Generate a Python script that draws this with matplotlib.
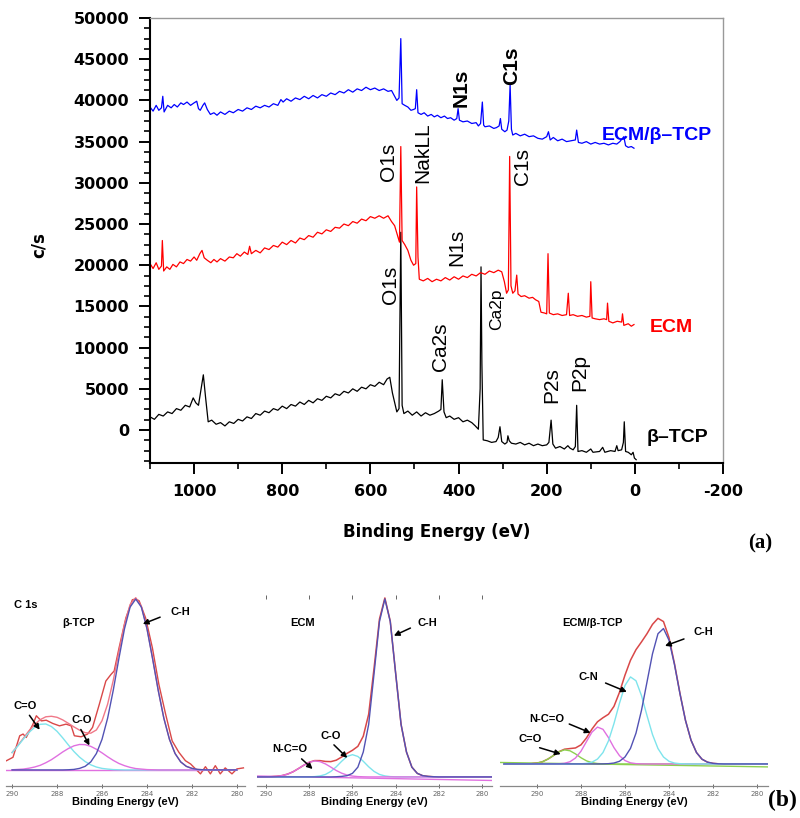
import numpy as np
import matplotlib
matplotlib.use("Agg")
import matplotlib.pyplot as plt
from matplotlib.ticker import MultipleLocator

plt.rcParams["axes.unicode_minus"] = False

# ---------------- (a) XPS survey spectra : binding energy (eV) / counts per s
tcp_E = [1100, 1090, 1080, 1070, 1060, 1050, 1040, 1030, 1020, 1010, 1002, 996, 990, 984, 979, 974,
         968, 960, 950, 940, 930, 920, 910, 900, 890, 880, 870, 860, 850, 840, 830, 820, 810, 800,
         790, 780, 770, 760, 750, 740, 730, 720, 710, 700, 690, 680, 670, 660, 650, 640, 630, 620,
         610, 600, 590, 580, 570, 562, 556, 550, 540, 535, 531, 528, 524, 515, 505, 495, 485, 475,
         465, 455, 445, 440, 437, 433, 428, 420, 410, 400, 390, 380, 370, 362, 355, 351, 349, 347,
         344, 335, 325, 315, 310, 306, 302, 295, 290, 288, 285, 280, 270, 260, 250, 240, 230, 220,
         210, 200, 195, 190, 186, 180, 170, 160, 152, 147, 140, 135, 132, 129, 120, 110, 100, 95,
         80, 73, 68, 55, 45, 41, 38, 30, 26, 24, 21, 15, 8, 4, 1, -3]
tcp_cps = [1600, 1300, 1900, 1700, 2200, 2000, 2600, 2400, 3000, 2800, 3900, 3300, 3000, 5000, 6700, 4000,
           1000, 1200, 700, 900, 500, 1000, 800, 1300, 1100, 1600, 1400, 2000, 1800, 2300, 2100, 2600, 2400, 2900,
           2600, 3100, 2900, 3400, 3100, 3600, 3300, 3800, 3600, 4100, 3900, 4400, 4200, 4700, 4500, 5000, 4700, 5200,
           5000, 5500, 5300, 5800, 5500, 6200, 6400, 4500, 2200, 2600, 24000, 3000, 2000, 2300, 1800, 2200, 1700, 2100,
           1800, 2000, 2300, 2500, 6100, 2200, 1500, 1700, 1300, 1500, 1000, 1200, 900, 500, 100, 5000, 19800, 8000,
           -1200, -1300, -1500, -1400, -900, 400, -1400, -1700, -1500, -700, -1300, -1600, -1700, -1500, -1800, -1600, -1900, -1700,
           -1900, -1800, -1500, 1200, -1700, -2200, -2000, -2300, -1900, -2200, -2400, -2000, 3000, -2600, -2500, -2700, -2300, -2700,
           -2600, -2100, -2700, -2500, -2600, -1900, -2500, -2400, -1500, 1000, -2600, -2700, -3000, -2700, -3400, -3600]

ecm_E = [1100, 1093, 1086, 1080, 1074, 1072, 1069, 1062, 1055, 1048, 1040, 1032, 1024, 1016, 1008, 1000,
         994, 987, 982, 977, 970, 962, 955, 948, 940, 930, 920, 911, 903, 895, 886, 878, 874, 870,
         860, 850, 840, 830, 820, 810, 800, 790, 780, 770, 760, 750, 740, 730, 720, 710, 700, 690,
         680, 670, 660, 650, 640, 630, 620, 610, 600, 590, 580, 570, 560, 552, 545, 538, 534, 531,
         528, 522, 515, 508, 502, 497, 495, 492, 489, 480, 470, 460, 450, 440, 430, 420, 410, 400,
         390, 380, 370, 360, 350, 340, 330, 320, 310, 302, 296, 291, 287, 284, 281, 277, 272, 268,
         265, 258, 250, 240, 232, 225, 218, 213, 205, 200, 197, 194, 185, 175, 165, 155, 151, 148,
         140, 130, 120, 110, 102, 100, 97, 90, 80, 70, 64, 62, 59, 50, 40, 30, 28, 25, 15, 8, 2]
ecm_cps = [20200, 19600, 20300, 19500, 19900, 23000, 19300, 19800, 19500, 20100, 19800, 20400, 20200, 20700, 20500, 21000,
           20600, 21400, 21800, 20900, 20600, 20300, 20700, 20400, 20800, 20500, 21000, 20900, 21400, 21100, 21600, 21300, 22300, 21400,
           21800, 21500, 22100, 21900, 22400, 22200, 22800, 22500, 23000, 22700, 23300, 23100, 23600, 23400, 24000, 23800, 24300, 24100,
           24600, 24500, 25000, 24800, 25300, 25100, 25600, 25400, 25900, 25700, 26000, 25700, 26000, 25300, 24800, 23500, 22800, 34400,
           23000, 22500, 21800, 20600, 20000, 20200, 29500, 21000, 18300, 18100, 18400, 18000, 18300, 18100, 18500, 18200, 18600, 18300,
           18700, 18500, 18900, 18700, 19100, 18900, 19300, 19100, 19400, 19200, 18000, 16600, 17000, 33200, 17500, 16600, 16900, 18800,
           16500, 16200, 16300, 16000, 16100, 15800, 15600, 14300, 14200, 14100, 21400, 14200, 14000, 14100, 13900, 14000, 16600, 13900,
           14000, 13800, 13900, 13700, 13800, 18000, 13600, 13500, 13400, 13500, 13400, 15400, 13200, 13000, 13200, 13100, 14100, 12700, 12900, 12600, 12800]

mix_E = [1100, 1093, 1086, 1080, 1074, 1071, 1068, 1060, 1052, 1045, 1038, 1030, 1024, 1016, 1008, 1000,
         994, 990, 986, 980, 976, 970, 963, 955, 948, 940, 930, 920, 911, 900, 890, 880, 870, 860,
         850, 840, 830, 820, 810, 803, 798, 790, 780, 770, 760, 750, 740, 730, 720, 710, 700, 690,
         680, 670, 660, 650, 640, 630, 620, 610, 600, 590, 580, 570, 560, 552, 546, 540, 535, 531,
         528, 522, 515, 508, 502, 498, 495, 492, 485, 478, 470, 462, 455, 448, 440, 432, 425, 418,
         410, 404, 401, 398, 390, 380, 370, 360, 355, 350, 346, 343, 340, 330, 320, 314, 308, 305,
         302, 295, 290, 286, 283, 280, 277, 270, 260, 250, 240, 230, 220, 210, 200, 196, 192, 185,
         175, 165, 155, 145, 135, 132, 128, 120, 110, 100, 90, 80, 70, 60, 50, 41, 34, 28, 25, 21, 15, 8, 2]
mix_cps = [39200, 38700, 39400, 38800, 39100, 40500, 38600, 39400, 39100, 39500, 39200, 39700, 39500, 39800, 39400, 39700,
           39900, 39000, 38800, 39400, 39700, 38900, 38300, 38500, 38200, 38600, 38300, 38700, 38500, 38900, 38700, 39100, 38900, 39300,
           39100, 39400, 39200, 39600, 39400, 40100, 39800, 40200, 39900, 40300, 40100, 40500, 40200, 40600, 40300, 40700, 40500, 40900,
           40700, 41100, 40900, 41300, 41000, 41400, 41200, 41600, 41300, 41500, 41200, 41400, 41100, 41200, 40600, 40000, 40300, 47500,
           39600, 39400, 39200, 38800, 38900, 39000, 41300, 38500, 38300, 38500, 38100, 38300, 38000, 38200, 37900, 38100, 37800, 37900,
           37600, 37800, 39000, 37600, 37400, 37500, 37200, 37300, 36900, 37200, 39800, 37000, 36800, 36900, 36600, 36700, 36900, 37800,
           36500, 36200, 36400, 37500, 41900, 36500, 35800, 36000, 35700, 35900, 35600, 35700, 35400, 35300, 35600, 36200, 35200, 35500,
           35100, 35300, 35000, 35100, 35200, 36400, 34900, 34800, 35000, 34700, 34900, 34700, 34800, 34600, 34800, 34700, 35000, 35400, 35600, 34500, 34300, 34400, 34200]

# peak labels: text, energy, counts, bold, size
peak_labels = [("O1s", 555, 17600, False, 15), ("O1s", 560, 32500, False, 15),
               ("NakLL", 481, 33600, False, 15), ("N1s", 395, 41500, True, 15),
               ("C1s", 279, 44200, True, 15), ("N1s", 404, 22200, False, 15),
               ("C1s", 254, 32000, False, 15), ("Ca2p", 313, 14700, False, 12.5),
               ("Ca2s", 442, 10100, False, 15), ("P2s", 188, 5500, False, 15),
               ("P2p", 125, 7000, False, 15)]
series_names = ["ECM/\u03b2\u2013TCP", "ECM", "\u03b2\u2013TCP"]
series_colors = ["#0000ff", "#ff0000", "black"]
series_label_pos = [(-50, 35700), (-83, 12450), (-96, -950)]

# ---------------- (b) C 1s high-resolution fits (normalised intensity)
E_l = np.arange(290, 279.9, -0.25)
l_CH = [0]*10 + [0.1, 0.3, 0.9, 2.1, 4.7, 9.6, 17.9, 30.3, 46.6, 65.1, 82.6, 95.3, 100, 95.3, 82.6, 65.1,
                 46.6, 30.3, 17.9, 9.6, 4.7, 2.1, 0.9, 0.3, 0.1] + [0]*6
l_CO = [0.1, 0.3, 0.5, 1.0, 1.7, 2.7, 4.2, 6.0, 8.2, 10.5, 12.5, 14.1, 14.9, 14.8, 13.8, 12.1, 10.0, 7.7,
        5.6, 3.8, 2.5, 1.5, 0.8, 0.5, 0.2, 0.1] + [0]*15
l_CdO = [10.1, 13.9, 18.0, 21.9, 24.9, 26.7, 26.9, 25.4, 22.6, 18.8, 14.7, 10.8, 7.5, 4.9, 3.0, 1.7, 0.9,
         0.5, 0.2, 0.1] + [0]*21
l_data_E = [290.25, 289.96, 289.66, 289.51, 289.37, 289.07, 288.92, 288.70, 288.48, 288.19, 287.89, 287.60,
            287.37, 287.23, 286.93, 286.64, 286.42, 286.12, 285.83, 285.60, 285.46, 285.24, 284.94, 284.65,
            284.50, 284.35, 284.06, 283.76, 283.47, 283.17, 282.88, 282.58, 282.29, 282.06, 281.84, 281.62,
            281.40, 281.18, 280.96, 280.74, 280.52, 280.22, 280.00, 279.71]
l_data = [5.4, 7.4, 20, 21, 19, 26.8, 31.7, 28.7, 29.1, 27.2, 25.8, 26.8, 25.8, 20, 19.4, 21, 24.9, 38.4,
          52, 55.9, 57.9, 71.5, 88.9, 99.6, 100, 99, 88.9, 71.5, 50, 32.6, 17, 10.3, 5.4, 3.5, 0.6, -2.3,
          1.9, -2.3, 2.5, -2.3, 1.2, -2.3, 0.6, 1.2]

E_m = np.arange(290.5, 279.4, -0.25)
m_CH = [0]*15 + [0.1, 0.3, 0.7, 2.0, 5.5, 14, 29.5, 58.1, 87.3, 100, 87.3, 58.1, 29.5, 14, 5.5, 2.0, 0.7,
                 0.3, 0.1] + [0]*11
m_CO = [0]*10 + [0.05, 0.18, 0.56, 1.4, 3.1, 5.7, 8.8, 11.5, 12.5, 11.5, 8.8, 5.7, 3.1, 1.4, 0.56, 0.18,
                 0.05] + [0]*18
m_NCO = [0, 0, 0.05, 0.13, 0.33, 0.78, 1.6, 2.9, 4.7, 6.6, 8.2, 9.0, 8.6, 7.3, 5.5, 3.6, 2.1, 1.05, 0.47,
         0.19, 0.07] + [0]*24
m_base = ([290.4, 279.5], [0.5, -2.0])

E_r = np.arange(291.5, 279.4, -0.25)
r_CH = [0]*18 + [0.05, 0.19, 0.62, 1.8, 4.7, 10.5, 20.8, 36.2, 55.3, 74.4, 88.0, 91.5, 83.6, 67.1, 47.4,
                 29.4, 16.1, 7.7, 3.2, 1.2, 0.4, 0.1] + [0]*9
r_CN = [0]*14 + [0.1, 0.37, 1.2, 3.3, 7.7, 15.6, 27.3, 41.0, 53.0, 58.8, 56.2, 46.2, 32.7, 19.9, 10.4, 4.7,
                 1.8, 0.6, 0.17, 0.04] + [0]*15
r_NCO = [0]*10 + [0.11, 0.46, 1.5, 4.0, 8.6, 15.1, 21.5, 24.9, 23.4, 17.8, 11.0, 5.6, 2.3, 0.75, 0.2,
                  0.05] + [0]*23
r_CdO = [0]*4 + [0.04, 0.17, 0.57, 1.5, 3.3, 5.7, 8.2, 9.5, 8.9, 6.8, 4.2, 2.1, 0.86, 0.29, 0.08] + [0]*30
r_base = ([291.7, 279.5], [1.0, -2.0])

# annotations per panel: (text, text_xy, arrow_tail, arrow_head)
ann_l = [("C-H", (282.5, 92.4), (283.3, 90), (284.3, 84.8)),
         ("C=O", (289.4, 37.4), (289.3, 33.3), (288.7, 22.2)),
         ("C-O", (286.9, 29.2), (287.0, 25.1), (286.5, 12.9))]
ann_m = [("C-H", (282.55, 86.5), (283.2, 84.3), (284.2, 78.7)),
         ("C-O", (287.0, 23), (286.95, 19.1), (286.15, 9.6)),
         ("N-C=O", (288.9, 15.7), (288.45, 11.2), (287.75, 3.4))]
ann_r = [("C-H", (282.45, 89.2), (283.2, 85.1), (284.3, 79.1)),
         ("C-N", (287.65, 58.8), (287.0, 55.4), (285.8, 48)),
         ("N-C=O", (289.55, 30.4), (288.65, 27.7), (287.45, 20.3)),
         ("C=O", (290.3, 16.9), (290.0, 11.5), (288.8, 6.1))]

W, H = 800, 818
fig = plt.figure(figsize=(8, 8.18), dpi=100)


def box(x0, y0, x1, y1):
    return [x0 / W, 1 - y1 / H, (x1 - x0) / W, (y1 - y0) / H]


# ---------- panel (a)
ax = fig.add_axes(box(150, 18, 723, 463))
ax.plot(tcp_E, tcp_cps, color="black", lw=0.9)
ax.plot(ecm_E, ecm_cps, color="#ff0000", lw=0.9)
ax.plot(mix_E, mix_cps, color="#0000ff", lw=0.9)
ax.set_xlim(1100, -200)
ax.set_ylim(-4000, 50000)
ax.xaxis.set_major_locator(MultipleLocator(200))
ax.xaxis.set_minor_locator(MultipleLocator(100))
ax.yaxis.set_major_locator(MultipleLocator(5000))
ax.yaxis.set_minor_locator(MultipleLocator(1250))
ax.tick_params(which="major", direction="out", length=8, width=1.4, labelsize=11.5, pad=7)
ax.tick_params(which="minor", direction="out", length=4.5, width=1.2)
for lab in ax.get_xticklabels() + ax.get_yticklabels():
    lab.set_fontweight("bold")
for s in ("left", "bottom"):
    ax.spines[s].set_linewidth(1.5)
for s in ("top", "right"):
    ax.spines[s].set_color("#999999")
    ax.spines[s].set_linewidth(1)
ax.set_xlabel("Binding Energy (eV)", fontsize=12, fontweight="bold")
ax.xaxis.set_label_coords(0.5, -0.135)
ax.set_ylabel("c/s", fontsize=12, fontweight="bold")
ax.yaxis.set_label_coords(-0.178, 0.49)

for txt, e, c, bold, size in peak_labels:
    ax.text(e, c, txt, rotation=90, ha="center", va="center", fontsize=size,
            family="Liberation Sans", fontweight="bold" if bold else "normal")
for name, col, (e, c) in zip(series_names, series_colors, series_label_pos):
    ax.text(e, c, name, color=col, ha="center", va="center", fontsize=14,
            family="Liberation Sans", fontweight="bold")

fig.text(760 / W, 1 - 543 / H, "(a)", family="Liberation Serif", fontweight="bold",
         fontsize=15, ha="center", va="center")
fig.text(782 / W, 1 - 800 / H, "(b)", family="Liberation Serif", fontweight="bold",
         fontsize=17, ha="center", va="center")

# ---------- panels (b)
c_red, c_fit, c_blue = "#d94848", "#f07888", "#5252b4"
c_mag, c_cyan, c_green = "#e070e0", "#7ee4ec", "#8cd050"


def small_axes(rect, xlim, ylim, top_ticks=False):
    a = fig.add_axes(rect)
    a.set_xlim(*xlim)
    a.set_ylim(*ylim)
    for s in ("left", "right", "top"):
        a.spines[s].set_visible(False)
    a.spines["bottom"].set_color("#888888")
    a.spines["bottom"].set_linewidth(0.9)
    a.set_yticks([])
    a.set_xticks([290, 288, 286, 284, 282, 280])
    a.tick_params(axis="x", direction="inout", length=3.5, width=0.7, color="#666666",
                  labelsize=5, labelcolor="#666666", pad=1.5, top=top_ticks)
    a.set_xlabel("Binding Energy (eV)", fontsize=8, fontweight="bold",
                 family="Liberation Sans", labelpad=0)
    return a


def annotate(a, items):
    for txt, xy, tail, head in items:
        a.text(xy[0], xy[1], txt, fontsize=8, fontweight="bold", family="Liberation Sans",
               ha="center", va="center")
        a.annotate("", xy=head, xytext=tail,
                   arrowprops=dict(arrowstyle="-|>", color="black", lw=1.1, mutation_scale=8))


# beta-TCP
al = small_axes(box(6, 597, 245, 786), (290.27, 279.64), (-9.4, 101.2))
l_fit = np.sum([l_CH, l_CO, l_CdO], axis=0)
al.plot([290.25, 281.5], [0, 0], color=c_mag, lw=1)
al.plot(l_data_E, l_data, color=c_red, lw=1)
al.plot(E_l, l_fit, color=c_fit, lw=1)
al.plot(E_l, l_CdO, color=c_cyan, lw=1)
al.plot(E_l, l_CO, color=c_mag, lw=1)
al.plot(E_l, l_CH, color=c_blue, lw=1)
al.text(289.4, 96.5, "C 1s", fontsize=8, fontweight="bold", family="Liberation Sans",
        ha="center", va="center")
al.text(287.05, 86, "\u03b2-TCP", fontsize=8, fontweight="bold", family="Liberation Sans",
        ha="center", va="center")
annotate(al, ann_l)

# ECM
am = small_axes(box(257, 597, 492, 786), (290.42, 279.54), (-5.1, 101.1), top_ticks=True)
m_fit = np.sum([m_CH, m_CO, m_NCO], axis=0)
am.plot(*m_base, color=c_mag, lw=1)
am.plot(E_m, m_fit, color=c_red, lw=1.1)
am.plot(E_m, m_CO, color=c_cyan, lw=1)
am.plot(E_m, m_NCO, color=c_mag, lw=1)
am.plot(E_m, m_CH, color=c_blue, lw=1)
am.text(288.3, 86.5, "ECM", fontsize=8, fontweight="bold", family="Liberation Sans",
        ha="center", va="center")
annotate(am, ann_m)

# ECM/beta-TCP
ar = small_axes(box(500, 597, 768, 786), (291.68, 279.5), (-14.9, 112.8))
r_fit = np.sum([r_CH, r_CN, r_NCO, r_CdO], axis=0)
ar.plot(*r_base, color=c_green, lw=1)
ar.plot(E_r, r_fit, color=c_red, lw=1.1)
ar.plot(E_r, r_CdO, color=c_green, lw=1)
ar.plot(E_r, r_NCO, color=c_mag, lw=1)
ar.plot(E_r, r_CN, color=c_cyan, lw=1)
ar.plot(E_r, r_CH, color=c_blue, lw=1)
ar.text(287.5, 95.3, "ECM/\u03b2-TCP", fontsize=8, fontweight="bold", family="Liberation Sans",
        ha="center", va="center")
annotate(ar, ann_r)

fig.savefig("out.png", dpi=100)
